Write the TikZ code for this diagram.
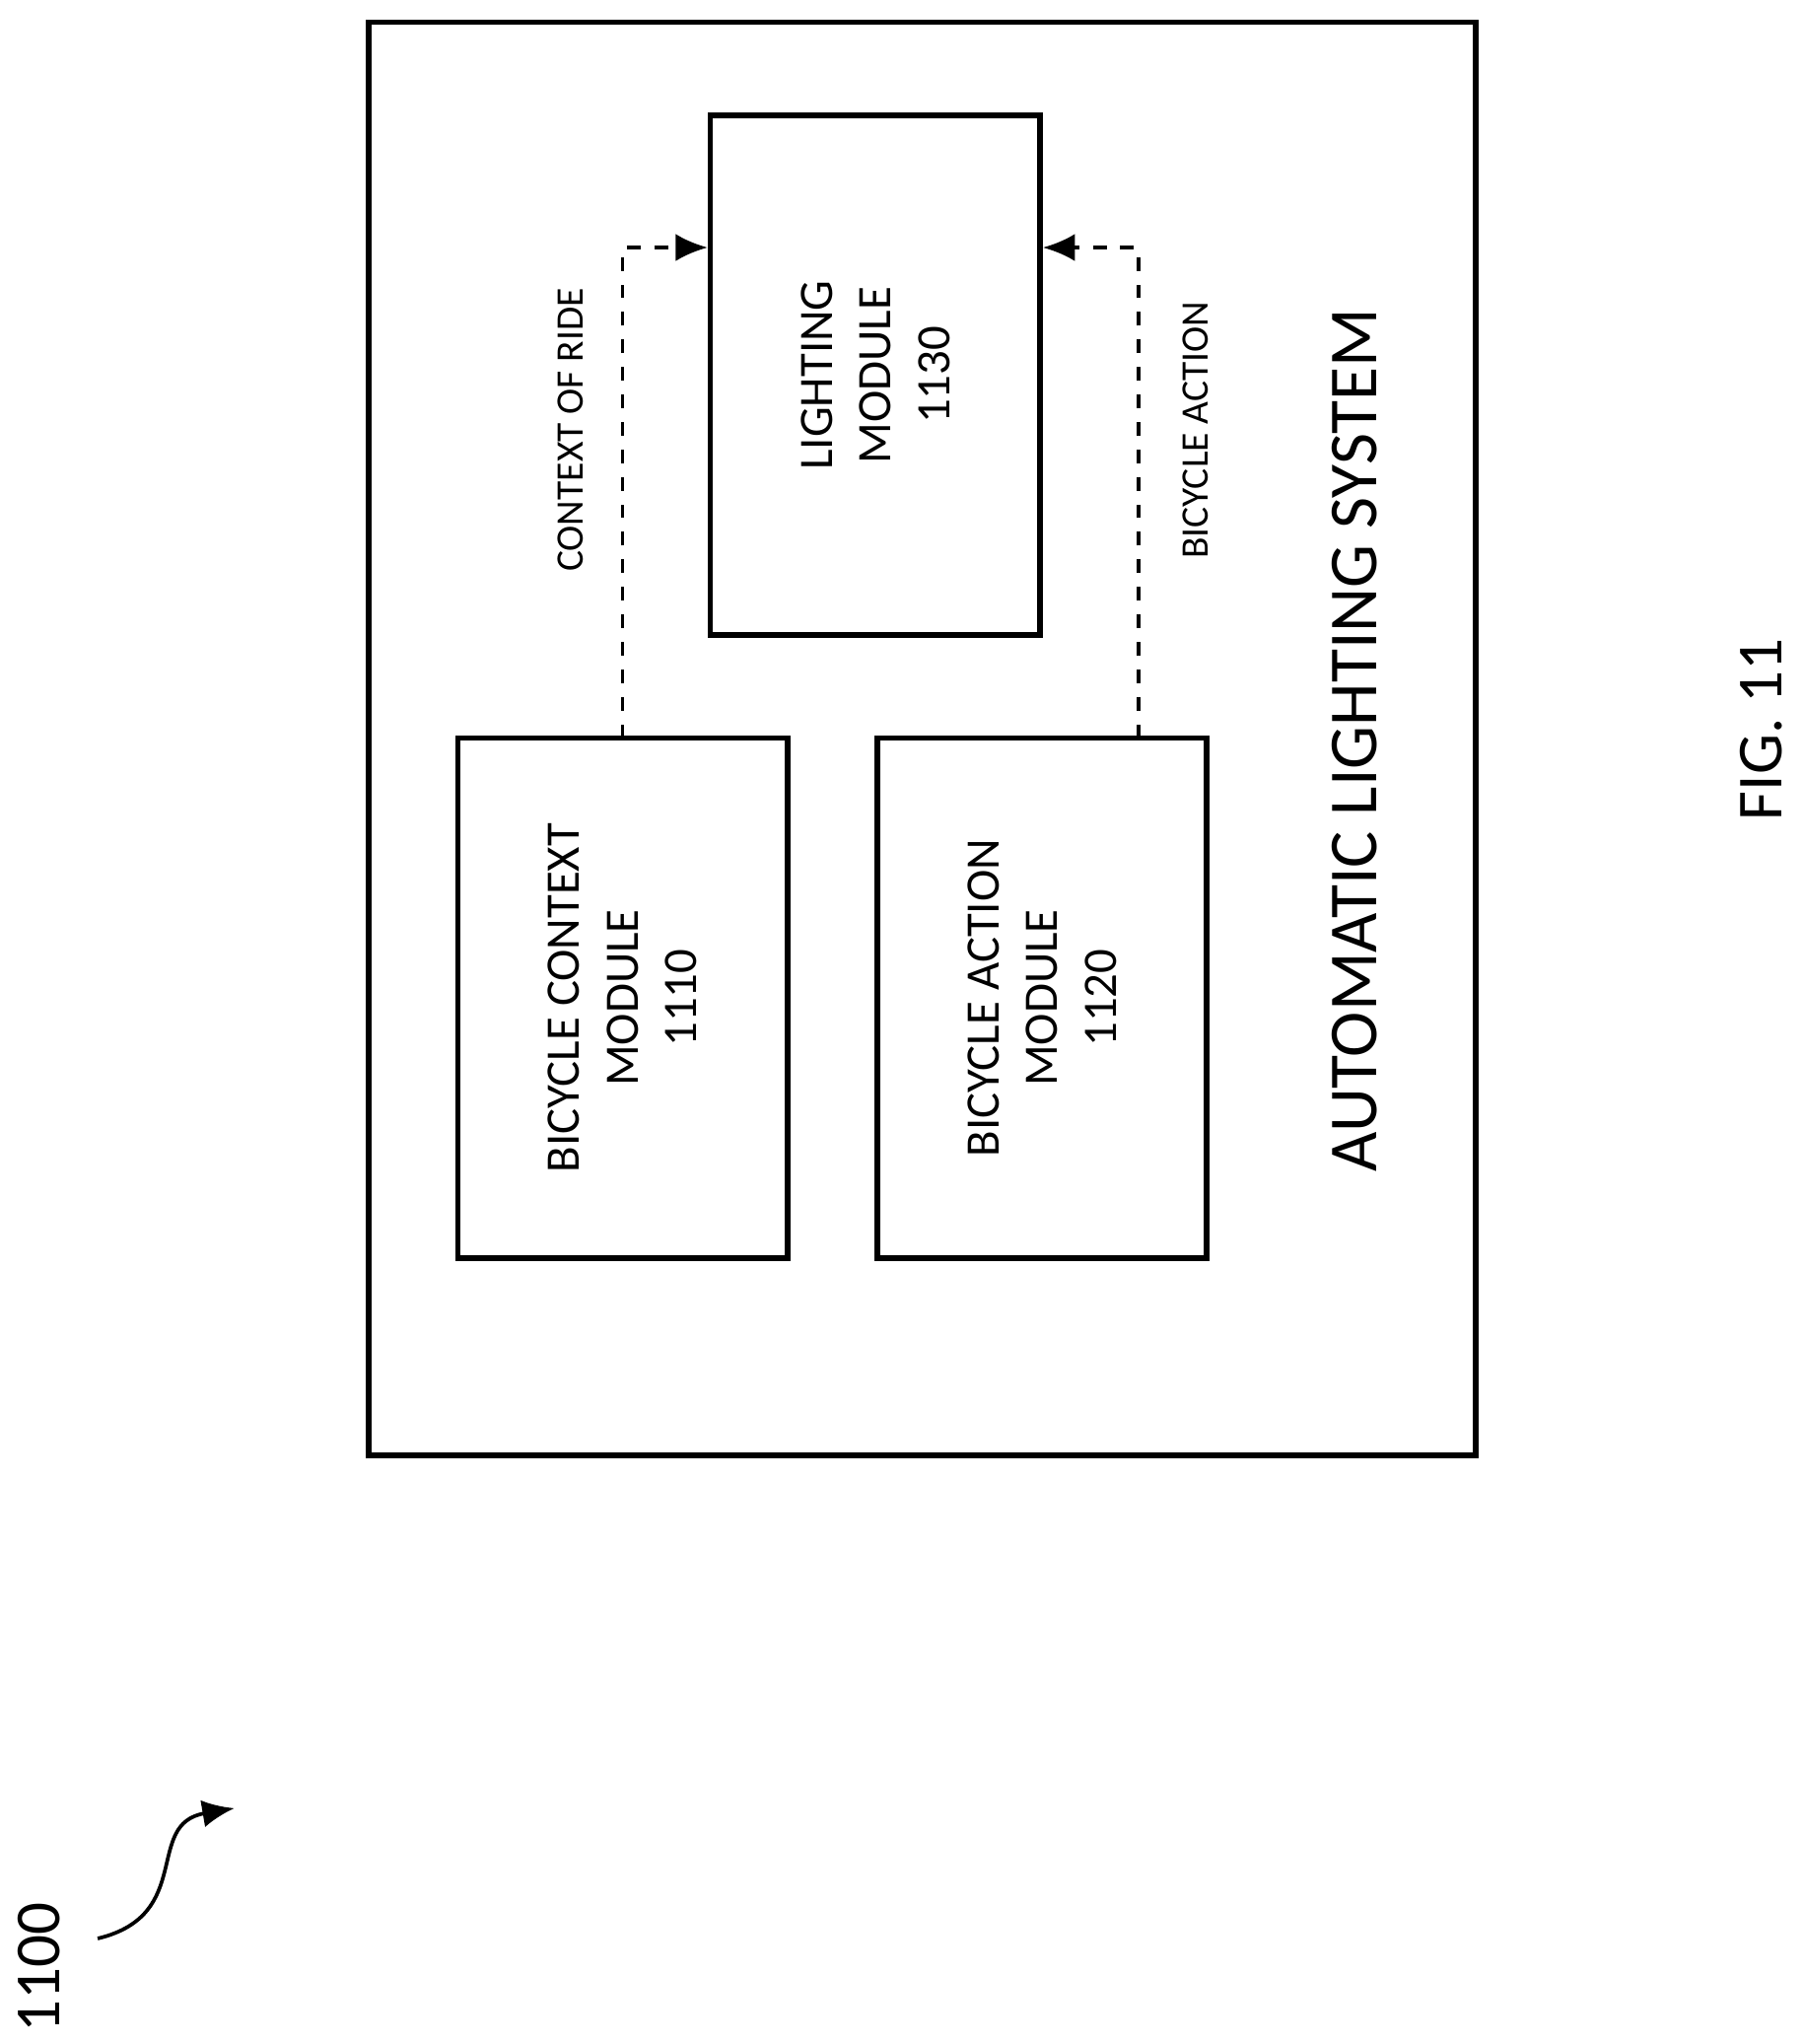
\documentclass[tikz,border=0pt]{standalone}
\usepackage{fontspec}
\setmainfont{Carlito}
\usetikzlibrary{arrows.meta,positioning}
\begin{document}
\begin{tikzpicture}[
		x=0.01cm, y=-0.01cm,
		>={Latex[length=7pt,width=6pt]},
		module/.style={
			draw,
			very thick,
			minimum width=3.99cm,
			minimum height=2.53cm,
			align=center,
			rotate=90,
			font=\fontsize{10.5}{12.8}\selectfont
		},
		flow/.style={->, dashed, thick},
		lbl/.style={rotate=90, font=\fontsize{8.5}{10}\selectfont}
		]
		\useasboundingbox (0,0) rectangle (1384,1569);
		
		% outer system box
		\draw[very thick] (283,17) rectangle (1133,1117);
		
		% modules
		\node[module] (ctx) at (478,766) {BICYCLE CONTEXT\\MODULE\\1110};
		\node[module] (act) at (800,766) {BICYCLE ACTION\\MODULE\\1120};
		\node[module] (light) at (672,288) {LIGHTING\\MODULE\\1130};
		
		% bends of the connectors
		\coordinate (c1) at (478,190);
		\coordinate (c2) at (874,190);
		
		% connectors into lighting module
		\draw[flow] (ctx.center) ++(0,-199.5) -- (c1) -- (light.north |- c1);
		\draw[flow] (act.center) ++(74,-199.5) -- (c2) -- (light.south |- c2);
		
		% connector labels
		\node[lbl] (lctx) at (438,330) {CONTEXT OF RIDE};
		\node[lbl] (lact) at (918,330) {BICYCLE ACTION};
		
		% system title and figure label
		\node[rotate=90, font=\fontsize{15}{18}\selectfont] (sys) at (1040,568) {AUTOMATIC LIGHTING SYSTEM};
		\node[rotate=90, font=\fontsize{14}{16}\selectfont] (fig) at (1352,560) {FIG. 11};
		
		% reference numeral
		\node[rotate=90, font=\fontsize{14}{16}\selectfont] (ref) at (30,1510) {1100};
		\coordinate (tip) at (180,1388);
		\draw[->, thick] (75,1488) .. controls (150,1470) and (110,1400) .. (tip);
		
	\end{tikzpicture}
\end{document}
